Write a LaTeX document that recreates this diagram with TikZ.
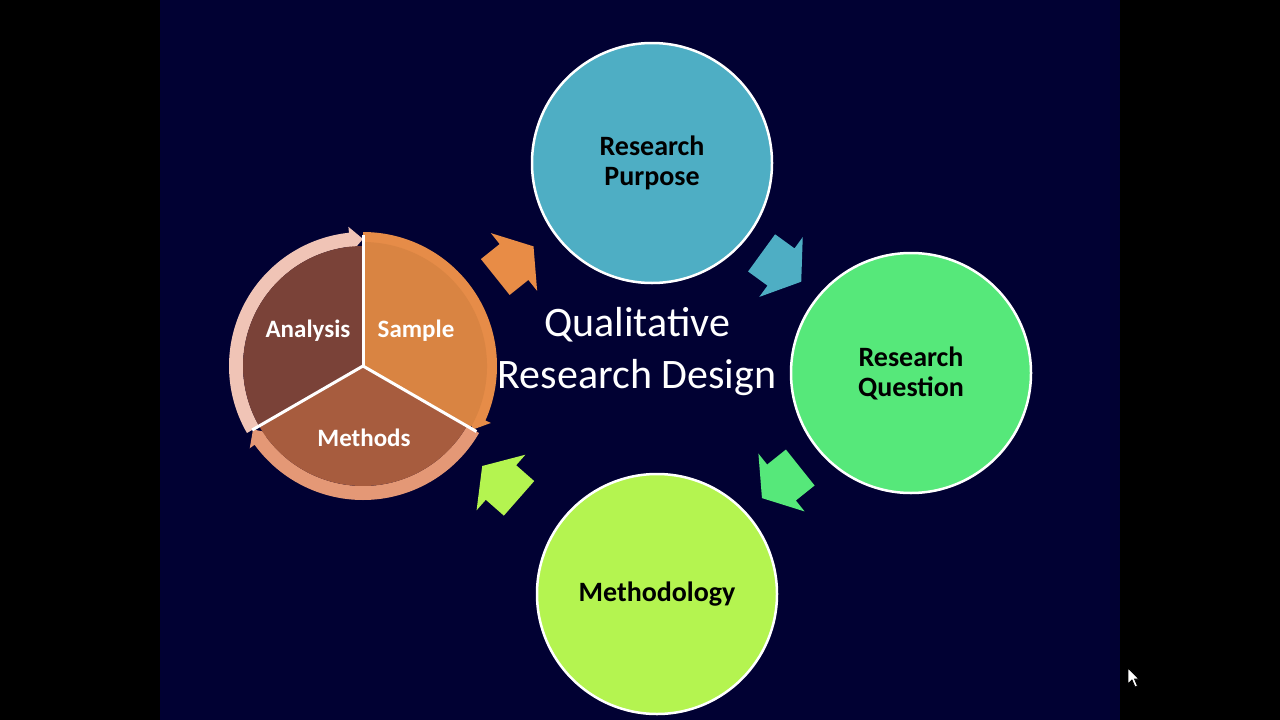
\documentclass[tikz,border=0pt]{standalone}
\usepackage{fontspec}
\setmainfont{Carlito}
\usetikzlibrary{calc}
\definecolor{navybg}{RGB}{1,1,51}
\definecolor{purposecol}{RGB}{78,174,196}
\definecolor{questioncol}{RGB}{86,232,122}
\definecolor{methodcol}{RGB}{180,244,80}
\definecolor{orangearr}{RGB}{232,140,70}
\definecolor{analysiscol}{RGB}{122,66,56}
\definecolor{samplecol}{RGB}{217,132,66}
\definecolor{methodscol}{RGB}{167,92,62}
\definecolor{ringone}{RGB}{240,196,182}
\definecolor{ringtwo}{RGB}{230,140,72}
\definecolor{ringthree}{RGB}{228,152,118}
\tikzset{
  bigcircle/.style={circle, draw=white, line width=2.5pt, minimum size=240pt, inner sep=0pt, align=center, text=black, font=\bfseries\fontsize{28}{30}\selectfont},
  pielabel/.style={text=white, font=\bfseries\fontsize{25}{28}\selectfont, inner sep=0pt},
  titletext/.style={text=white, align=center, font=\fontsize{42}{52}\selectfont}
}
\newcommand{\myblockarrow}[4]{% x, y (screen), angle, colour
  \fill[#4, shift={(#1,-#2)}, rotate=#3] (25,0) -- (0,37) -- (0,23) -- (-24,23) -- (-24,-23) -- (0,-23) -- (0,-37) -- cycle;}
\newcommand{\myringarrow}[3]{% start angle, end angle (clockwise), colour
  \fill[#3] ($(P)+(#1:134)$) arc[start angle=#1, end angle=#2+6, radius=134]
    -- ($(P)+(#2+6:140)$) -- ($(P)+(#2:127)$) -- ($(P)+(#2+6:114)$)
    -- ($(P)+(#2+6:120)$) arc[start angle=#2+6, end angle=#1, radius=120] -- cycle;}
\begin{document}
\begin{tikzpicture}[x=1pt,y=1pt]
\useasboundingbox (0,0) rectangle (1280,-720);
\fill[black] (0,0) rectangle (1280,-720);
\fill[navybg] (160,0) rectangle (1120,-720);

% circles
\node[bigcircle, fill=purposecol] (purpose) at (652,-163) {Research\\Purpose};
\node[bigcircle, fill=questioncol] (question) at (911,-373) {Research\\Question};
\node[bigcircle, fill=methodcol] (methodology) at (657,-594) {Methodology};

% title
\node[titletext] (title) at (637,-352) {Qualitative\\Research Design};

% block arrows
\myblockarrow{514}{262}{38.7}{orangearr}
\myblockarrow{781}{267}{-36}{purposecol}
\myblockarrow{781.5}{482.5}{218.6}{questioncol}
\myblockarrow{501}{482.5}{138.7}{methodcol}

% pie cycle
\coordinate (P) at (363,-366);
\myringarrow{210}{90}{ringone}
\myringarrow{90}{-30}{ringtwo}
\myringarrow{-30}{-150}{ringthree}
\fill[analysiscol] (P) -- ($(P)+(90:120)$) arc[start angle=90, end angle=210, radius=120] -- cycle;
\fill[methodscol] (P) -- ($(P)+(210:120)$) arc[start angle=210, end angle=330, radius=120] -- cycle;
\fill[samplecol] (P) -- ($(P)+(-30:124)$) arc[start angle=-30, end angle=90, radius=124] -- cycle;
\draw[white, line width=3pt] (P) -- ($(P)+(90:131)$);
\draw[white, line width=3pt] (P) -- ($(P)+(210:128)$);
\draw[white, line width=3pt] (P) -- ($(P)+(330:131)$);
\node[pielabel] (analysis) at (308,-331) {Analysis};
\node[pielabel] (sample) at (416,-331) {Sample};
\node[pielabel] (methods) at (364,-438) {Methods};

% mouse cursor
\filldraw[fill=white, draw=black, line width=0.8pt, shift={(1128,-668)}] (0,0) -- (0,-16) -- (4,-12) -- (7,-19) -- (9.5,-18) -- (6.5,-11) -- (11,-11) -- cycle;
\end{tikzpicture}
\end{document}
